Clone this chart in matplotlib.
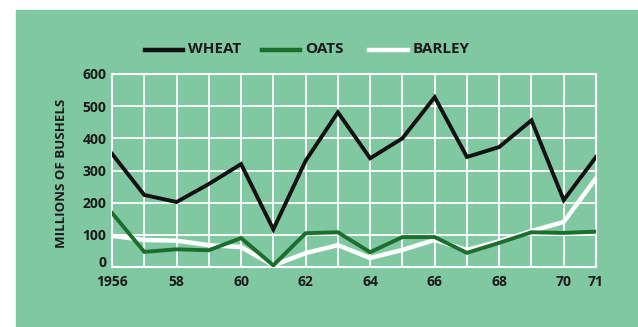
import matplotlib
matplotlib.use("Agg")
import matplotlib.pyplot as plt
from matplotlib.lines import Line2D
from matplotlib.patches import Rectangle

# --- Data (millions of bushels) ---
years  = list(range(1956, 1972))
wheat  = [352, 224, 202, 258, 320, 117, 330, 481, 338, 400, 528, 342, 373, 456, 208, 342]
oats   = [168, 47, 55, 52, 90, 5, 105, 108, 46, 93, 93, 44, 75, 108, 106, 110]
barley = [97, 84, 82, 68, 62, 5, 43, 68, 28, 53, 84, 53, 80, 112, 140, 276]
tick_years  = [1956, 1958, 1960, 1962, 1964, 1966, 1968, 1970, 1971]
tick_labels = ["1956", "58", "60", "62", "64", "66", "68", "70", "71"]

BG      = "#80c8a2"
C_WHEAT = "#111111"
C_OATS  = "#1b6e2c"
C_BAR   = "#ffffff"
FONT    = ["Open Sans", "DejaVu Sans"]

fig = plt.figure(figsize=(6.38, 3.27), dpi=100)
fig.patch.set_facecolor("white")
fig.patches.append(Rectangle((16 / 638, 0), 1, (327 - 10) / 327,
                             transform=fig.transFigure, color=BG, zorder=-10))

ax = fig.add_axes([112 / 638, 60 / 327, 484 / 638, 193 / 327])
ax.set_facecolor(BG)
ax.set_xlim(1956, 1971)
ax.set_ylim(0, 600)

# white grid, one line per year and per 100
ax.set_xticks(years)
ax.set_yticks(range(0, 700, 100))
ax.grid(True, color="white", linewidth=1.3)
ax.set_axisbelow(True)
for s in ax.spines.values():
    s.set_color("white")
    s.set_linewidth(1.5)
ax.tick_params(axis="x", length=0, pad=6)
ax.tick_params(axis="y", length=0, pad=4)

ax.plot(years, barley, color=C_BAR, linewidth=3.2, zorder=3, solid_joinstyle="miter")
ax.plot(years, oats, color=C_OATS, linewidth=2.8, zorder=4, solid_joinstyle="miter")
ax.plot(years, wheat, color=C_WHEAT, linewidth=2.8, zorder=5, solid_joinstyle="miter")

# only some years get a label
ax.set_xticklabels([tick_labels[tick_years.index(y)] if y in tick_years else "" for y in years],
                   fontsize=10, fontweight="bold", family=FONT, color="#1a1a1a")
ax.set_yticklabels([str(v) for v in range(0, 700, 100)],
                   fontsize=10, fontweight="bold", family=FONT, color="#1a1a1a")
# sit the zero label on the baseline so it clears the first year
ax.get_yticklabels()[0].set_va("baseline")

fig.text(62 / 638, 1 - 173 / 327, "MILLIONS OF BUSHELS", rotation=90, ha="center", va="center",
         fontsize=9.5, fontweight="bold", family=FONT, color="#1a1a1a")

# legend row above the plot
legend = [("WHEAT", C_WHEAT, 145, 183), ("OATS", C_OATS, 262, 300), ("BARLEY", C_BAR, 369, 408)]
ly = 1 - 50 / 327
for name, col, x0, x1 in legend:
    fig.add_artist(Line2D([x0 / 638, x1 / 638], [ly, ly], color=col, linewidth=3.2,
                          transform=fig.transFigure))
    fig.text((x1 + 5) / 638, ly + 0.002, name, ha="left", va="center",
             fontsize=11, fontweight="bold", family=FONT, color="#1a1a1a")

fig.savefig("out.png", dpi=100, facecolor=fig.get_facecolor())
